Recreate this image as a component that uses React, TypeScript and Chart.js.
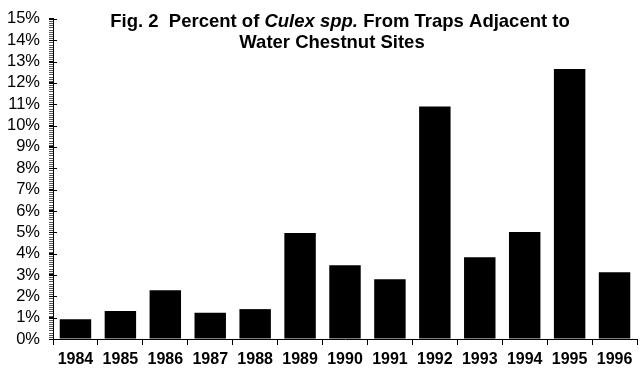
import React, { useEffect, useRef } from "react";
import { Chart, registerables } from "chart.js";

Chart.register(...registerables);

const years = ["1984", "1985", "1986", "1987", "1988", "1989", "1990", "1991", "1992", "1993", "1994", "1995", "1996"];
const percentValues = [0.93, 1.31, 2.29, 1.23, 1.4, 4.97, 3.46, 2.8, 10.89, 3.83, 5.01, 12.65, 3.13];
const titleLine1 = [
  { text: "Fig. 2  Percent of ", italic: false },
  { text: "Culex spp.", italic: true },
  { text: " From Traps Adjacent to", italic: false },
];
const titleLine2 = "Water Chestnut Sites";
const minorStep = 0.1;

const FONT = "'Liberation Sans', Arial, sans-serif";

const isWhole = (v: number) => Math.abs(v - Math.round(v)) < 1e-6;

const titlePlugin = {
  id: "mixedTitle",
  afterDraw(chart: any) {
    const ctx = chart.ctx as CanvasRenderingContext2D;
    ctx.save();
    const ys = chart.scales.y;
    ctx.lineWidth = 1;
    // minor ticks on the outer side of the y axis
    ctx.strokeStyle = "#555";
    const n = Math.round((ys.max - ys.min) / minorStep);
    for (let i = 0; i <= n; i++) {
      const v = ys.min + i * minorStep;
      if (isWhole(v)) continue;
      const py = Math.round(ys.getPixelForValue(v)) + 0.5;
      ctx.beginPath();
      ctx.moveTo(ys.right - 4, py);
      ctx.lineTo(ys.right, py);
      ctx.stroke();
    }
    // major ticks crossing the y axis slightly into the plot
    ctx.strokeStyle = "#000";
    for (const t of ys.ticks) {
      if (!isWhole(t.value)) continue;
      const py = Math.round(ys.getPixelForValue(t.value)) + 0.5;
      ctx.beginPath();
      ctx.moveTo(ys.right - 4, py);
      ctx.lineTo(ys.right + 4, py);
      ctx.stroke();
    }
    ctx.fillStyle = "#000";
    ctx.textBaseline = "alphabetic";
    const normal = `bold 18.5px ${FONT}`;
    const ital = `italic bold 18.5px ${FONT}`;
    let total = 0;
    for (const p of titleLine1) {
      ctx.font = p.italic ? ital : normal;
      total += ctx.measureText(p.text).width;
    }
    const cx = 340;
    let x = cx - total / 2;
    for (const p of titleLine1) {
      ctx.font = p.italic ? ital : normal;
      ctx.textAlign = "left";
      ctx.fillText(p.text, x, 27);
      x += ctx.measureText(p.text).width;
    }
    ctx.font = normal;
    ctx.textAlign = "center";
    ctx.fillText(titleLine2, 332, 48);
    ctx.restore();
  },
};

export default function App() {
  const ref = useRef<HTMLCanvasElement>(null);
  useEffect(() => {
    if (!ref.current) return;
    const chart = new Chart(ref.current, {
      type: "bar",
      data: {
        labels: years,
        datasets: [
          {
            data: percentValues,
            backgroundColor: "#000",
            borderWidth: 0,
            barPercentage: 0.7,
            categoryPercentage: 1,
          },
        ],
      },
      options: {
        animation: false,
        responsive: false,
        maintainAspectRatio: false,
        layout: { padding: { top: 18, right: 3, left: 0, bottom: 0 } },
        plugins: { legend: { display: false }, title: { display: false }, tooltip: { enabled: false } },
        scales: {
          x: {
            offset: true,
            grid: {
              offset: true,
              drawOnChartArea: false,
              drawTicks: true,
              tickLength: 6,
              color: "#000",
            },
            border: { color: "#000", width: 1 },
            ticks: {
              color: "#000",
              font: { family: FONT, size: 16, weight: "bold" },
              padding: 5,
              maxRotation: 0,
              autoSkip: false,
            },
            afterFit(scale: any) {
              scale.height = 45;
            },
          },
          y: {
            min: 0,
            max: 15,
            grid: {
              drawOnChartArea: false,
              drawTicks: true,
              tickLength: 4,
              color: "#000",
            },
            border: { color: "#000", width: 1 },
            ticks: {
              stepSize: 1,
              autoSkip: false,
              color: "#000",
              padding: 9,
              font: { family: FONT, size: 16.5 },
              callback: (v: any) => `${Math.round(Number(v))}%`,
            },
            afterFit(scale: any) {
              scale.width = 53;
            },
          },
        },
      },
      plugins: [titlePlugin],
    });
    return () => chart.destroy();
  }, []);
  return (
    <div style={{ position: "fixed", left: 0, top: 0, width: 640, height: 384, background: "#fff" }}>
      <canvas ref={ref} width={640} height={384} style={{ width: 640, height: 384 }} />
    </div>
  );
}
